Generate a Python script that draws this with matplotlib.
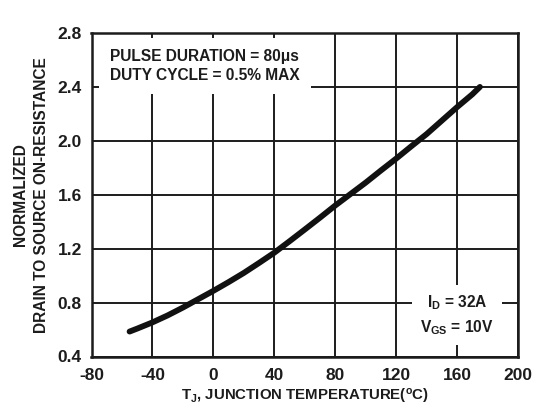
import matplotlib
matplotlib.use("Agg")
import matplotlib.pyplot as plt

plt.rcParams['font.family'] = ['Liberation Sans', 'DejaVu Sans']
plt.rcParams['font.weight'] = 'bold'
plt.rcParams['mathtext.fontset'] = 'custom'
plt.rcParams['mathtext.rm'] = 'Liberation Sans:bold'
plt.rcParams['mathtext.it'] = 'Liberation Sans:bold'
plt.rcParams['mathtext.bf'] = 'Liberation Sans:bold'

temp_c = [-55, -50, -40, -30, -20, -10, 0, 10, 20, 30, 40, 50, 60, 70, 80, 90,
          100, 110, 120, 130, 140, 150, 160, 170, 175]
rds_norm = [0.585, 0.607, 0.653, 0.705, 0.763, 0.825, 0.887, 0.952, 1.02, 1.094, 1.17,
            1.255, 1.342, 1.43, 1.52, 1.605, 1.69, 1.78, 1.868, 1.96, 2.05, 2.15,
            2.25, 2.345, 2.40]
x_ticks = [-80, -40, 0, 40, 80, 120, 160, 200]
y_ticks = [0.4, 0.8, 1.2, 1.6, 2.0, 2.4, 2.8]

ink = '#1c1c1c'
fig = plt.figure(figsize=(5.41, 4.16), dpi=100)
ax = fig.add_axes([91.5/541, 1 - 356.5/416, (518-91.5)/541, (356.5-33)/416])

ax.set_xlim(-80, 200)
ax.set_ylim(0.4, 2.8)
ax.set_xticks(x_ticks)
ax.set_yticks(y_ticks)
ax.set_xticklabels([str(v) for v in x_ticks])
ax.set_yticklabels([f"{v:.1f}" for v in y_ticks])
ax.tick_params(length=0, labelsize=12.5, colors=ink)
ax.tick_params(axis='x', pad=8)
ax.tick_params(axis='y', pad=7)
ax.grid(True, color=ink, linewidth=1.4)
ax.set_axisbelow(True)
for s in ax.spines.values():
    s.set_linewidth(1.8)
    s.set_color(ink)

ax.plot(temp_c, rds_norm, color='#111111', linewidth=4.2, solid_capstyle='round',
        solid_joinstyle='round', zorder=3)

ax.set_xlabel(r"T$_\mathregular{J}$, JUNCTION TEMPERATURE($^\mathregular{o}$C)",
              fontsize=10.8, fontweight='bold', labelpad=3, color=ink)
ax.set_ylabel("NORMALIZED\nDRAIN TO SOURCE ON-RESISTANCE", fontsize=11.2,
              fontweight='bold', labelpad=6, color=ink, linespacing=1.5)

ax.text(-67.9, 2.556, "PULSE DURATION = 80\u03bcs\nDUTY CYCLE = 0.5% MAX", fontsize=11.2,
        fontweight='bold', va='center', ha='left', linespacing=1.3, color=ink, zorder=4,
        bbox=dict(facecolor='white', edgecolor='none', pad=8))
ax.text(160, 0.707, "I$_\\mathregular{D}$ = 32A\nV$_\\mathregular{GS}$ = 10V", fontsize=11.2,
        fontweight='bold', va='center', ha='center', linespacing=1.45, color=ink, zorder=4,
        bbox=dict(facecolor='white', edgecolor='none', pad=6))

fig.savefig("out.png", dpi=100)
